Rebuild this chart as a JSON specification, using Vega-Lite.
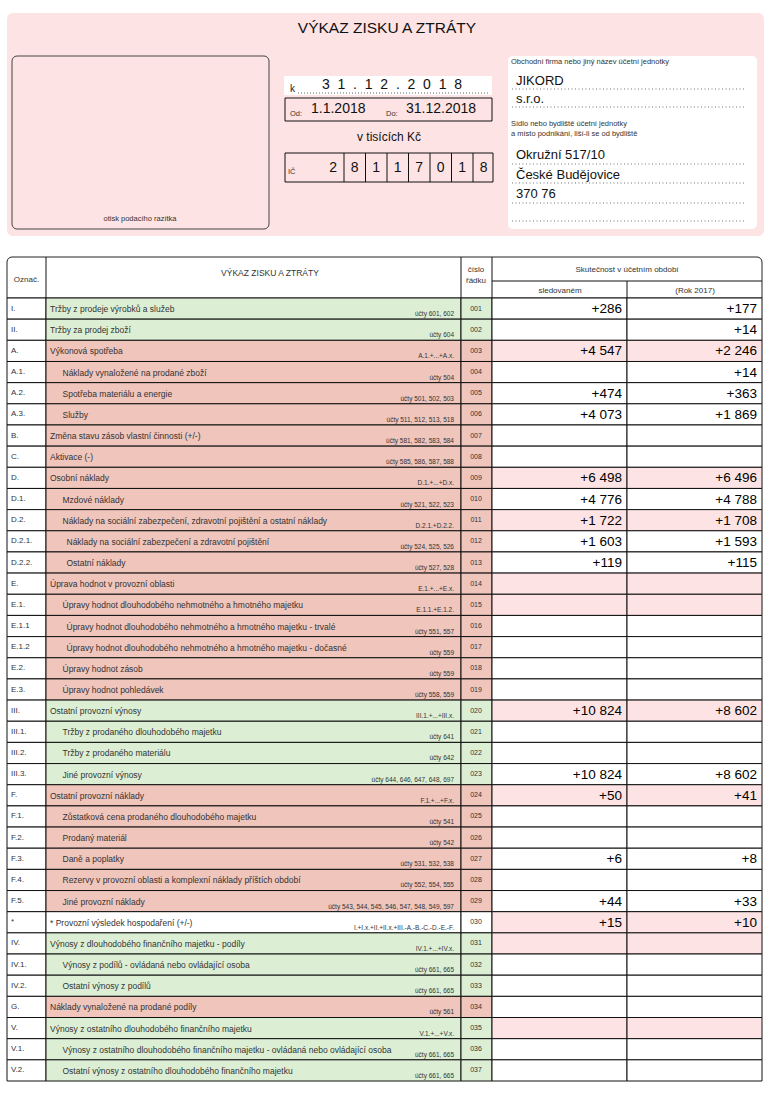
{
"$schema":"https://vega.github.io/schema/vega-lite/v6.json",
"width":772,"height":1098,
"autosize":{"type":"fit","contains":"padding"},
"padding":0,
"background":"#ffffff",
"config":{"view":{"stroke":null},"font":"Liberation Sans","locale":{"number":{"decimal":",","thousands":" ","grouping":[3],"currency":["","\u00a0Kč"]}}},
"datasets":{
"ico":[{"pos":1,"digit":"2"},{"pos":2,"digit":"8"},{"pos":3,"digit":"1"},{"pos":4,"digit":"1"},{"pos":5,"digit":"7"},{"pos":6,"digit":"0"},{"pos":7,"digit":"1"},{"pos":8,"digit":"8"}],
"rows":[
{"line":"001","code":"I.","label":"Tržby z prodeje výrobků a služeb","indent":0,"acct":"účty 601, 602","kind":"výnos","total":false,"cur":286,"prev":177},
{"line":"002","code":"II.","label":"Tržby za prodej zboží","indent":0,"acct":"účty 604","kind":"výnos","total":false,"prev":14},
{"line":"003","code":"A.","label":"Výkonová spotřeba","indent":0,"acct":"A.1.+...+A.x.","kind":"náklad","total":true,"cur":4547,"prev":2246},
{"line":"004","code":"A.1.","label":"Náklady vynaložené na prodané zboží","indent":1,"acct":"účty 504","kind":"náklad","total":false,"prev":14},
{"line":"005","code":"A.2.","label":"Spotřeba materiálu a energie","indent":1,"acct":"účty 501, 502, 503","kind":"náklad","total":false,"cur":474,"prev":363},
{"line":"006","code":"A.3.","label":"Služby","indent":1,"acct":"účty 511, 512, 513, 518","kind":"náklad","total":false,"cur":4073,"prev":1869},
{"line":"007","code":"B.","label":"Změna stavu zásob vlastní činnosti (+/-)","indent":0,"acct":"účty 581, 582, 583, 584","kind":"náklad","total":false},
{"line":"008","code":"C.","label":"Aktivace (-)","indent":0,"acct":"účty 585, 586, 587, 588","kind":"náklad","total":false},
{"line":"009","code":"D.","label":"Osobní náklady","indent":0,"acct":"D.1.+...+D.x.","kind":"náklad","total":true,"cur":6498,"prev":6496},
{"line":"010","code":"D.1.","label":"Mzdové náklady","indent":1,"acct":"účty 521, 522, 523","kind":"náklad","total":false,"cur":4776,"prev":4788},
{"line":"011","code":"D.2.","label":"Náklady na sociální zabezpečení, zdravotní pojištění a ostatní náklady","indent":1,"acct":"D.2.1.+D.2.2.","kind":"náklad","total":true,"cur":1722,"prev":1708},
{"line":"012","code":"D.2.1.","label":"Náklady na sociální zabezpečení a zdravotní pojištění","indent":2,"acct":"účty 524, 525, 526","kind":"náklad","total":false,"cur":1603,"prev":1593},
{"line":"013","code":"D.2.2.","label":"Ostatní náklady","indent":2,"acct":"účty 527, 528","kind":"náklad","total":false,"cur":119,"prev":115},
{"line":"014","code":"E.","label":"Úprava hodnot v provozní oblasti","indent":0,"acct":"E.1.+...+E.x.","kind":"náklad","total":true},
{"line":"015","code":"E.1.","label":"Úpravy hodnot dlouhodobého nehmotného a hmotného majetku","indent":1,"acct":"E.1.1.+E.1.2.","kind":"náklad","total":true},
{"line":"016","code":"E.1.1","label":"Úpravy hodnot dlouhodobého nehmotného a hmotného majetku - trvalé","indent":2,"acct":"účty 551, 557","kind":"náklad","total":false},
{"line":"017","code":"E.1.2","label":"Úpravy hodnot dlouhodobého nehmotného a hmotného majetku - dočasné","indent":2,"acct":"účty 559","kind":"náklad","total":false},
{"line":"018","code":"E.2.","label":"Úpravy hodnot zásob","indent":1,"acct":"účty 559","kind":"náklad","total":false},
{"line":"019","code":"E.3.","label":"Úpravy hodnot pohledávek","indent":1,"acct":"účty 558, 559","kind":"náklad","total":false},
{"line":"020","code":"III.","label":"Ostatní provozní výnosy","indent":0,"acct":"III.1.+...+III.x.","kind":"výnos","total":true,"cur":10824,"prev":8602},
{"line":"021","code":"III.1.","label":"Tržby z prodaného dlouhodobého majetku","indent":1,"acct":"účty 641","kind":"výnos","total":false},
{"line":"022","code":"III.2.","label":"Tržby z prodaného materiálu","indent":1,"acct":"účty 642","kind":"výnos","total":false},
{"line":"023","code":"III.3.","label":"Jiné provozní výnosy","indent":1,"acct":"účty 644, 646, 647, 648, 697","kind":"výnos","total":false,"cur":10824,"prev":8602},
{"line":"024","code":"F.","label":"Ostatní provozní náklady","indent":0,"acct":"F.1.+...+F.x.","kind":"náklad","total":true,"cur":50,"prev":41},
{"line":"025","code":"F.1.","label":"Zůstatková cena prodaného dlouhodobého majetku","indent":1,"acct":"účty 541","kind":"náklad","total":false},
{"line":"026","code":"F.2.","label":"Prodaný materiál","indent":1,"acct":"účty 542","kind":"náklad","total":false},
{"line":"027","code":"F.3.","label":"Daně a poplatky","indent":1,"acct":"účty 531, 532, 538","kind":"náklad","total":false,"cur":6,"prev":8},
{"line":"028","code":"F.4.","label":"Rezervy v provozní oblasti a komplexní náklady příštích období","indent":1,"acct":"účty 552, 554, 555","kind":"náklad","total":false},
{"line":"029","code":"F.5.","label":"Jiné provozní náklady","indent":1,"acct":"účty 543, 544, 545, 546, 547, 548, 549, 597","kind":"náklad","total":false,"cur":44,"prev":33},
{"line":"030","code":"*","label":"* Provozní výsledek hospodaření (+/-)","indent":0,"acct":"I.+I.x.+II.+II.x.+III.-A.-B.-C.-D.-E.-F.","kind":"výsledek","total":true,"cur":15,"prev":10},
{"line":"031","code":"IV.","label":"Výnosy z dlouhodobého finančního majetku - podíly","indent":0,"acct":"IV.1.+...+IV.x.","kind":"výnos","total":true},
{"line":"032","code":"IV.1.","label":"Výnosy z podílů - ovládaná nebo ovládající osoba","indent":1,"acct":"účty 661, 665","kind":"výnos","total":false},
{"line":"033","code":"IV.2.","label":"Ostatní výnosy z podílů","indent":1,"acct":"účty 661, 665","kind":"výnos","total":false},
{"line":"034","code":"G.","label":"Náklady vynaložené na prodané podíly","indent":0,"acct":"účty 561","kind":"náklad","total":false},
{"line":"035","code":"V.","label":"Výnosy z ostatního dlouhodobého finančního majetku","indent":0,"acct":"V.1.+...+V.x.","kind":"výnos","total":true},
{"line":"036","code":"V.1.","label":"Výnosy z ostatního dlouhodobého finančního majetku - ovládaná nebo ovládající osoba","indent":1,"acct":"účty 661, 665","kind":"výnos","total":false},
{"line":"037","code":"V.2.","label":"Ostatní výnosy z ostatního dlouhodobého finančního majetku","indent":1,"acct":"účty 661, 665","kind":"výnos","total":false}
]},
"data":{"values":[{}]},
"resolve":{"scale":{"x":"independent","y":"independent"}},
"layer":[
{"layer":[
{"mark":{"type":"rect","color":"#fde3e3","cornerRadius":6},"encoding":{"x":{"datum":7,"type":"quantitative","axis":null,"scale":{"domain":[0,772],"range":[0,772],"nice":false,"zero":false}},"x2":{"datum":764},"y":{"datum":13,"type":"quantitative","axis":null,"scale":{"domain":[0,1098],"range":[0,1098],"nice":false,"zero":false}},"y2":{"datum":236}}},
{"mark":{"type":"text","align":"center","baseline":"middle","fontSize":15.5,"color":"#111"},"encoding":{"x":{"datum":387,"type":"quantitative","axis":null},"y":{"datum":28,"type":"quantitative","axis":null},"text":{"value":"VÝKAZ ZISKU A ZTRÁTY"}}},
{"mark":{"type":"rect","fill":"#fde3e3","fillOpacity":0,"stroke":"#444","strokeWidth":1,"cornerRadius":5},"encoding":{"x":{"datum":12,"type":"quantitative","axis":null},"x2":{"datum":269},"y":{"datum":56,"type":"quantitative","axis":null},"y2":{"datum":229}}},
{"mark":{"type":"text","align":"center","baseline":"middle","fontSize":7.5,"color":"#333"},"encoding":{"x":{"datum":140,"type":"quantitative","axis":null},"y":{"datum":219,"type":"quantitative","axis":null},"text":{"value":"otisk podacího razítka"}}},
{"mark":{"type":"rect","color":"#ffffff"},"encoding":{"x":{"datum":284,"type":"quantitative","axis":null},"x2":{"datum":492},"y":{"datum":76,"type":"quantitative","axis":null},"y2":{"datum":95}}},
{"mark":{"type":"text","align":"left","baseline":"middle","fontSize":10,"color":"#223"},"encoding":{"x":{"datum":290,"type":"quantitative","axis":null},"y":{"datum":89,"type":"quantitative","axis":null},"text":{"value":"k"}}},
{"mark":{"type":"text","align":"center","baseline":"middle","fontSize":14,"color":"#111"},"encoding":{"x":{"datum":392,"type":"quantitative","axis":null},"y":{"datum":84.5,"type":"quantitative","axis":null},"text":{"value":"3\u00a0\u00a01\u00a0\u00a0.\u00a0\u00a01\u00a0\u00a02\u00a0\u00a0.\u00a0\u00a02\u00a0\u00a00\u00a0\u00a01\u00a0\u00a08"}}},
{"mark":{"type":"rule","color":"#666","strokeDash":[1,2],"strokeWidth":1},"encoding":{"x":{"datum":298,"type":"quantitative","axis":null},"x2":{"datum":490},"y":{"datum":93,"type":"quantitative","axis":null}}},
{"mark":{"type":"rect","fill":"#fde3e3","fillOpacity":0,"stroke":"#111","strokeWidth":1},"encoding":{"x":{"datum":285,"type":"quantitative","axis":null},"x2":{"datum":492},"y":{"datum":98,"type":"quantitative","axis":null},"y2":{"datum":121}}},
{"mark":{"type":"text","align":"left","baseline":"middle","fontSize":7.5,"color":"#333"},"encoding":{"x":{"datum":290,"type":"quantitative","axis":null},"y":{"datum":113.5,"type":"quantitative","axis":null},"text":{"value":"Od:"}}},
{"mark":{"type":"text","align":"left","baseline":"middle","fontSize":14,"color":"#111"},"encoding":{"x":{"datum":311,"type":"quantitative","axis":null},"y":{"datum":108.5,"type":"quantitative","axis":null},"text":{"value":"1.1.2018"}}},
{"mark":{"type":"text","align":"left","baseline":"middle","fontSize":7.5,"color":"#333"},"encoding":{"x":{"datum":386,"type":"quantitative","axis":null},"y":{"datum":113.5,"type":"quantitative","axis":null},"text":{"value":"Do:"}}},
{"mark":{"type":"text","align":"left","baseline":"middle","fontSize":14,"color":"#111"},"encoding":{"x":{"datum":406,"type":"quantitative","axis":null},"y":{"datum":108.5,"type":"quantitative","axis":null},"text":{"value":"31.12.2018"}}},
{"mark":{"type":"text","align":"center","baseline":"middle","fontSize":12,"color":"#111"},"encoding":{"x":{"datum":389,"type":"quantitative","axis":null},"y":{"datum":137,"type":"quantitative","axis":null},"text":{"value":"v tisících Kč"}}},
{"mark":{"type":"rect","fill":"#fde3e3","fillOpacity":0,"stroke":"#111","strokeWidth":1},"encoding":{"x":{"datum":285,"type":"quantitative","axis":null},"x2":{"datum":493},"y":{"datum":153,"type":"quantitative","axis":null},"y2":{"datum":182}}},
{"mark":{"type":"text","align":"left","baseline":"middle","fontSize":7.5,"color":"#333"},"encoding":{"x":{"datum":288,"type":"quantitative","axis":null},"y":{"datum":172,"type":"quantitative","axis":null},"text":{"value":"IČ"}}},
{"mark":{"type":"rect","color":"#ffffff","cornerRadius":5},"encoding":{"x":{"datum":508,"type":"quantitative","axis":null},"x2":{"datum":757},"y":{"datum":56,"type":"quantitative","axis":null},"y2":{"datum":229}}},
{"mark":{"type":"text","align":"left","baseline":"middle","fontSize":7.5,"color":"#333"},"encoding":{"x":{"datum":511,"type":"quantitative","axis":null},"y":{"datum":62,"type":"quantitative","axis":null},"text":{"value":"Obchodní firma nebo jiný název účetní jednotky"}}},
{"mark":{"type":"text","align":"left","baseline":"middle","fontSize":7.5,"color":"#333"},"encoding":{"x":{"datum":511,"type":"quantitative","axis":null},"y":{"datum":124,"type":"quantitative","axis":null},"text":{"value":"Sídlo nebo bydliště účetní jednotky"}}},
{"mark":{"type":"text","align":"left","baseline":"middle","fontSize":7.5,"color":"#333"},"encoding":{"x":{"datum":511,"type":"quantitative","axis":null},"y":{"datum":134,"type":"quantitative","axis":null},"text":{"value":"a místo podnikání, liší-li se od bydliště"}}},
{"mark":{"type":"rule","color":"#777","strokeDash":[1,2.5],"strokeWidth":1},"encoding":{"x":{"datum":512,"type":"quantitative","axis":null},"x2":{"datum":744},"y":{"datum":89,"type":"quantitative","axis":null}}},
{"mark":{"type":"rule","color":"#777","strokeDash":[1,2.5],"strokeWidth":1},"encoding":{"x":{"datum":512,"type":"quantitative","axis":null},"x2":{"datum":744},"y":{"datum":107,"type":"quantitative","axis":null}}},
{"mark":{"type":"rule","color":"#777","strokeDash":[1,2.5],"strokeWidth":1},"encoding":{"x":{"datum":512,"type":"quantitative","axis":null},"x2":{"datum":744},"y":{"datum":164,"type":"quantitative","axis":null}}},
{"mark":{"type":"rule","color":"#777","strokeDash":[1,2.5],"strokeWidth":1},"encoding":{"x":{"datum":512,"type":"quantitative","axis":null},"x2":{"datum":744},"y":{"datum":183,"type":"quantitative","axis":null}}},
{"mark":{"type":"rule","color":"#777","strokeDash":[1,2.5],"strokeWidth":1},"encoding":{"x":{"datum":512,"type":"quantitative","axis":null},"x2":{"datum":744},"y":{"datum":203,"type":"quantitative","axis":null}}},
{"mark":{"type":"rule","color":"#777","strokeDash":[1,2.5],"strokeWidth":1},"encoding":{"x":{"datum":512,"type":"quantitative","axis":null},"x2":{"datum":744},"y":{"datum":221,"type":"quantitative","axis":null}}},
{"mark":{"type":"text","align":"left","baseline":"middle","fontSize":13,"color":"#111"},"encoding":{"x":{"datum":516,"type":"quantitative","axis":null},"y":{"datum":80.5,"type":"quantitative","axis":null},"text":{"value":"JIKORD"}}},
{"mark":{"type":"text","align":"left","baseline":"middle","fontSize":13,"color":"#111"},"encoding":{"x":{"datum":516,"type":"quantitative","axis":null},"y":{"datum":98.5,"type":"quantitative","axis":null},"text":{"value":"s.r.o."}}},
{"mark":{"type":"text","align":"left","baseline":"middle","fontSize":13,"color":"#111"},"encoding":{"x":{"datum":516,"type":"quantitative","axis":null},"y":{"datum":155,"type":"quantitative","axis":null},"text":{"value":"Okružní 517/10"}}},
{"mark":{"type":"text","align":"left","baseline":"middle","fontSize":13,"color":"#111"},"encoding":{"x":{"datum":516,"type":"quantitative","axis":null},"y":{"datum":175,"type":"quantitative","axis":null},"text":{"value":"České Budějovice"}}},
{"mark":{"type":"text","align":"left","baseline":"middle","fontSize":13,"color":"#111"},"encoding":{"x":{"datum":516,"type":"quantitative","axis":null},"y":{"datum":193.5,"type":"quantitative","axis":null},"text":{"value":"370 76"}}},
{"mark":{"type":"rect","color":"#ffffff","stroke":"#222","strokeWidth":1,"cornerRadiusTopLeft":5,"cornerRadiusTopRight":5},"encoding":{"x":{"datum":7,"type":"quantitative","axis":null},"x2":{"datum":762},"y":{"datum":257,"type":"quantitative","axis":null},"y2":{"datum":298}}},
{"mark":{"type":"rule","color":"#111","strokeWidth":1},"encoding":{"x":{"datum":46,"type":"quantitative","axis":null},"y":{"datum":257,"type":"quantitative","axis":null},"y2":{"datum":298}}},
{"mark":{"type":"rule","color":"#111","strokeWidth":1},"encoding":{"x":{"datum":461,"type":"quantitative","axis":null},"y":{"datum":257,"type":"quantitative","axis":null},"y2":{"datum":298}}},
{"mark":{"type":"rule","color":"#111","strokeWidth":1},"encoding":{"x":{"datum":492,"type":"quantitative","axis":null},"y":{"datum":257,"type":"quantitative","axis":null},"y2":{"datum":298}}},
{"mark":{"type":"rule","color":"#111","strokeWidth":1},"encoding":{"x":{"datum":492,"type":"quantitative","axis":null},"x2":{"datum":762},"y":{"datum":281,"type":"quantitative","axis":null}}},
{"mark":{"type":"rule","color":"#111","strokeWidth":1},"encoding":{"x":{"datum":627,"type":"quantitative","axis":null},"y":{"datum":281,"type":"quantitative","axis":null},"y2":{"datum":298}}},
{"mark":{"type":"text","align":"center","baseline":"middle","fontSize":8,"color":"#333"},"encoding":{"x":{"datum":26.5,"type":"quantitative","axis":null},"y":{"datum":280,"type":"quantitative","axis":null},"text":{"value":"Označ."}}},
{"mark":{"type":"text","align":"center","baseline":"middle","fontSize":8.5,"color":"#333"},"encoding":{"x":{"datum":270,"type":"quantitative","axis":null},"y":{"datum":273,"type":"quantitative","axis":null},"text":{"value":"VÝKAZ ZISKU A ZTRÁTY"}}},
{"mark":{"type":"text","align":"center","baseline":"middle","fontSize":8,"color":"#333"},"encoding":{"x":{"datum":476,"type":"quantitative","axis":null},"y":{"datum":270,"type":"quantitative","axis":null},"text":{"value":"číslo"}}},
{"mark":{"type":"text","align":"center","baseline":"middle","fontSize":8,"color":"#333"},"encoding":{"x":{"datum":476,"type":"quantitative","axis":null},"y":{"datum":281,"type":"quantitative","axis":null},"text":{"value":"řádku"}}},
{"mark":{"type":"text","align":"center","baseline":"middle","fontSize":8,"color":"#333"},"encoding":{"x":{"datum":627,"type":"quantitative","axis":null},"y":{"datum":270,"type":"quantitative","axis":null},"text":{"value":"Skutečnost v účetním období"}}},
{"mark":{"type":"text","align":"center","baseline":"middle","fontSize":8,"color":"#333"},"encoding":{"x":{"datum":560,"type":"quantitative","axis":null},"y":{"datum":291,"type":"quantitative","axis":null},"text":{"value":"sledovaném"}}},
{"mark":{"type":"text","align":"center","baseline":"middle","fontSize":8,"color":"#333"},"encoding":{"x":{"datum":695,"type":"quantitative","axis":null},"y":{"datum":291,"type":"quantitative","axis":null},"text":{"value":"(Rok 2017)"}}}
]},
{"data":{"name":"ico"},
"layer":[
{"transform":[{"filter":"datum.pos < 8"}],"mark":{"type":"rule","color":"#111","strokeWidth":1},"encoding":{"x":{"field":"pos","type":"ordinal","bandPosition":1,"axis":null,"scale":{"type":"band","range":[322.5,494.5],"paddingInner":0,"paddingOuter":0}},"y":{"datum":153,"type":"quantitative","axis":null,"scale":{"domain":[0,1098],"range":[0,1098],"nice":false,"zero":false}},"y2":{"datum":182}}},
{"mark":{"type":"text","align":"center","baseline":"middle","fontSize":14,"color":"#111"},"encoding":{"x":{"field":"pos","type":"ordinal","axis":null},"y":{"datum":168,"type":"quantitative","axis":null},"text":{"field":"digit"}}}
]},
{"data":{"name":"rows"},
"layer":[
{"mark":{"type":"rect","color":"#ffffff","stroke":"#111","strokeWidth":1},"encoding":{"x":{"datum":7,"type":"quantitative","axis":null,"scale":{"domain":[0,772],"range":[0,772],"nice":false,"zero":false}},"x2":{"datum":46},"y":{"field":"line","type":"ordinal","axis":null,"scale":{"type":"band","range":[298,1081],"paddingInner":0,"paddingOuter":0}}}},
{"mark":{"type":"rect","stroke":"#111","strokeWidth":1},"encoding":{"x":{"datum":46,"type":"quantitative","axis":null},"x2":{"datum":461},"y":{"field":"line","type":"ordinal","axis":null},"fill":{"field":"kind","type":"nominal","legend":null,"scale":{"domain":["výnos","náklad","výsledek"],"range":["#dcefd5","#efc5bc","#ffffff"]}}}},
{"mark":{"type":"rect","stroke":"#111","strokeWidth":1},"encoding":{"x":{"datum":461,"type":"quantitative","axis":null},"x2":{"datum":492},"y":{"field":"line","type":"ordinal","axis":null},"fill":{"field":"kind","type":"nominal","legend":null}}},
{"mark":{"type":"rect","stroke":"#111","strokeWidth":1},"encoding":{"x":{"datum":492,"type":"quantitative","axis":null},"x2":{"datum":627},"y":{"field":"line","type":"ordinal","axis":null},"fill":{"condition":{"test":"datum.total","value":"#fde3e3"},"value":"#ffffff"}}},
{"mark":{"type":"rect","stroke":"#111","strokeWidth":1},"encoding":{"x":{"datum":627,"type":"quantitative","axis":null},"x2":{"datum":762},"y":{"field":"line","type":"ordinal","axis":null},"fill":{"condition":{"test":"datum.total","value":"#fde3e3"},"value":"#ffffff"}}},
{"mark":{"type":"text","align":"left","baseline":"middle","fontSize":8,"color":"#333"},"encoding":{"x":{"datum":11,"type":"quantitative","axis":null},"y":{"field":"line","type":"ordinal","axis":null},"text":{"field":"code"}}},
{"transform":[{"filter":"datum.indent == 0"}],"mark":{"type":"text","align":"left","baseline":"middle","fontSize":8.5,"color":"#333","dy":0.5},"encoding":{"x":{"datum":50,"type":"quantitative","axis":null},"y":{"field":"line","type":"ordinal","axis":null},"text":{"field":"label"}}},
{"transform":[{"filter":"datum.indent == 1"}],"mark":{"type":"text","align":"left","baseline":"middle","fontSize":8.5,"color":"#333","dy":0.5},"encoding":{"x":{"datum":62.5,"type":"quantitative","axis":null},"y":{"field":"line","type":"ordinal","axis":null},"text":{"field":"label"}}},
{"transform":[{"filter":"datum.indent == 2"}],"mark":{"type":"text","align":"left","baseline":"middle","fontSize":8.5,"color":"#333","dy":0.5},"encoding":{"x":{"datum":66.5,"type":"quantitative","axis":null},"y":{"field":"line","type":"ordinal","axis":null},"text":{"field":"label"}}},
{"mark":{"type":"text","align":"right","baseline":"middle","fontSize":6.5,"color":"#333","dy":5.5},"encoding":{"x":{"datum":454,"type":"quantitative","axis":null},"y":{"field":"line","type":"ordinal","axis":null},"text":{"field":"acct"}}},
{"mark":{"type":"text","align":"center","baseline":"middle","fontSize":7,"color":"#333","dy":0},"encoding":{"x":{"datum":476,"type":"quantitative","axis":null},"y":{"field":"line","type":"ordinal","axis":null},"text":{"field":"line"}}},
{"transform":[{"filter":"isValid(datum.cur)"}],"mark":{"type":"text","align":"right","baseline":"middle","fontSize":13.5,"color":"#000","dy":0.5},"encoding":{"x":{"datum":622,"type":"quantitative","axis":null},"y":{"field":"line","type":"ordinal","axis":null},"text":{"field":"cur","type":"quantitative","format":"+,d"}}},
{"transform":[{"filter":"isValid(datum.prev)"}],"mark":{"type":"text","align":"right","baseline":"middle","fontSize":13.5,"color":"#000","dy":0.5},"encoding":{"x":{"datum":757,"type":"quantitative","axis":null},"y":{"field":"line","type":"ordinal","axis":null},"text":{"field":"prev","type":"quantitative","format":"+,d"}}}
]}
]
}
